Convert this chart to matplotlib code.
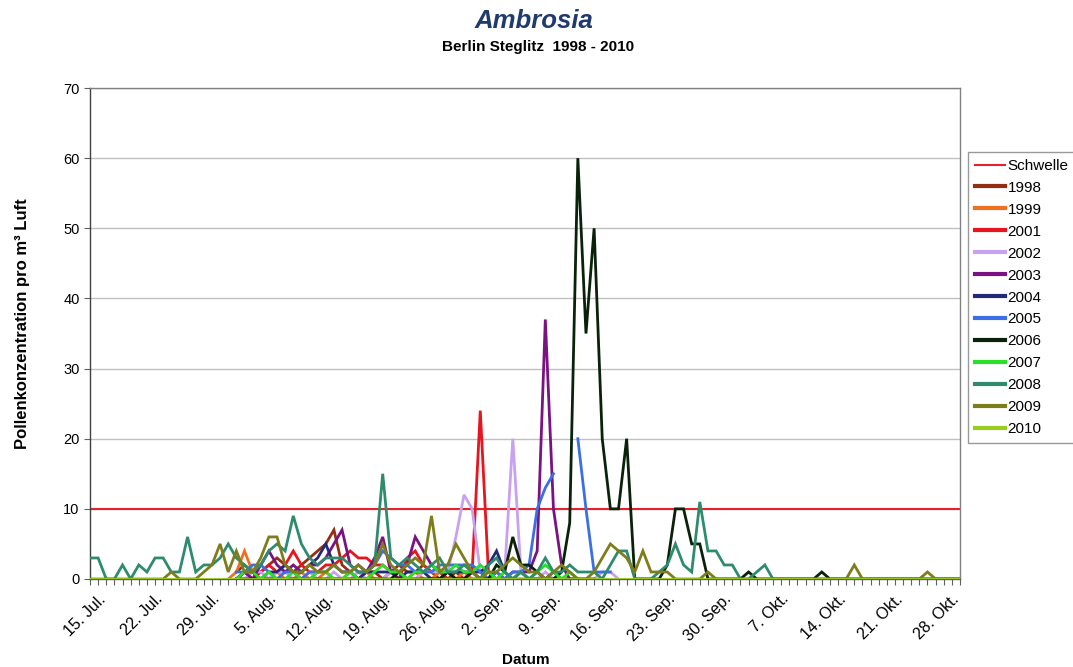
import numpy as np
import matplotlib
matplotlib.use("Agg")
import matplotlib.pyplot as plt
import matplotlib.transforms as mtrans
from matplotlib.ticker import MultipleLocator, FixedLocator

plt.rcParams['font.family'] = ['Liberation Sans', 'DejaVu Sans']

## data : daily pollen counts, day 0 = 15. Jul., day 107 = 30. Okt.
n_days = 108
tick_days = list(range(0, 106, 7))
tick_labels = ["15. Jul.", "22. Jul.", "29. Jul.", "5. Aug.", "12. Aug.", "19. Aug.",
               "26. Aug.", "2. Sep.", "9. Sep.", "16. Sep.", "23. Sep.", "30. Sep.",
               "7. Okt.", "14. Okt.", "21. Okt.", "28. Okt."]

schwelle = 10

# (first day, values)  - None = no measurement
y1998 = (18, [1, 2, 1, 1, 2, 3, 2, 1, 2, 3, 4, 5, 7, 2, 1, 0, 1, 1, 0, 1, 2, 1, 1, 2, 1, 0,
              0, 1, 0, 0, 0, 0, 0])
y1999 = (17, [0, 1, 4, 1, 0, 0, 1, 0, 0, 1, 0, 0, 1, 0, 0, 1, 2, 1, 0, 0, 1, 0, 0, 1, 0, 0,
              1, 0, 0, 1, 0, 0])
y2001 = (18, [0, 1, 0, 1, 2, 1, 2, 4, 2, 1, 1, 2, 2, 3, 4, 3, 3, 2, 2, 1, 0, 3, 4, 2, 1, 1,
              0, 0, 0, 1, 24, 1, 0, 0, 0, 0, 0, 0])
y2002 = (18, [0, 0, 1, 1, 0, 1, 1, 0, 0, 1, 0, 0, 1, 0, 0, 1, 0, 0, 0, 1, 1, 0, 0, 1, 1, 1,
              1, 6, 12, 10, 1, 0, 0, 1, 20, 1, 0, 0, 1, 0, 0, 0, 0, 0, 0, 1, 1, 0])
y2003 = (18, [0, 1, 0, 2, 4, 2, 1, 2, 1, 2, 2, 3, 5, 7, 2, 1, 1, 3, 6, 1, 1, 2, 6, 4, 2, 1,
              1, 0, 0, 1, 0, 0, 1, 0, 1, 1, 1, 4, 37, 10, 2, 0, 0, 0, 0])
y2004 = (18, [0, 1, 1, 0, 1, 1, 2, 1, 1, 2, 3, 5, 2, 1, 1, 0, 1, 1, 1, 1, 0, 1, 1, 1, 0, 0,
              1, 1, 1, 1, 1, 2, 4, 1, 0, 1, 0, 0, 0, 1, 0, 0, 0])
y2005 = (18, [1, 1, 2, 2, 1, 0, 1, 1, 0, 1, 1, 1, 2, 1, 1, 2, 1, 2, 4, 3, 2, 2, 1, 1, 1, 2,
              2, 2, 2, 2, 1, 0, 1, 0, 1, 1, 2, 10, 13, 15, None, None, 20, 10, 1, 1, 1])
y2006 = (18, [0, 0, 0, 0, 0, 0, 0, 0, 0, 0, 0, 0, 0, 0, 0, 0, 0, 0, 0, 0, 1, 0, 0, 0, 0, 0,
              1, 0, 0, 1, 0, 0, 2, 1, 6, 2, 2, 1, 0, 0, 1, 8, 60, 35, 50, 20, 10, 10, 20, 0,
              0, 0, 0, 2, 10, 10, 5, 5, 0, 0, 0, 0, 0, 1, 0, 0, 0, 0, 0, 0, 0, 0, 1, 0, 0, 0,
              0, 0, 0, 0, 0, 0, 0, 0, 0, 0, 0, 0, 0, 0])
y2007 = (18, [0, 1, 1, 0, 1, 0, 0, 1, 0, 0, 1, 1, 0, 0, 1, 0, 0, 1, 2, 1, 1, 0, 1, 1, 2, 1,
              1, 2, 1, 1, 2, 1, 0, 1, 0, 1, 0, 1, 2, 1, 0, 1, 0])
y2008 = (0, [3, 3, 0, 0, 2, 0, 2, 1, 3, 3, 1, 1, 6, 1, 2, 2, 3, 5, 3, 2,
             1, 2, 4, 5, 4, 9, 5, 3, 2, 3, 3, 3, 2, 1, 1, 2, 15, 3, 2, 3,
             2, 1, 2, 3, 1, 1, 2, 1, 0, 2, 3, 1, 0, 1, 0, 1, 3, 1, 1, 2,
             1, 1, 1, 0, 2, 4, 4, 0, 0, 0, 1, 2, 5, 2, 1, 11, 4, 4, 2, 2,
             0, 0, 1, 2, 0, 0, 0, 0, 0, 0, 0, 0, 0, 0, 0, 0, 0, 0, 0, 0,
             0, 0, 0, 0, 0, 0, 0, 0])
y2009 = (0, [0, 0, 0, 0, 0, 0, 0, 0, 0, 0, 1, 0, 0, 0, 1, 2, 5, 1, 4, 1,
             1, 3, 6, 6, 2, 1, 1, 2, 1, 1, 2, 1, 1, 2, 1, 2, 5, 2, 1, 2,
             3, 2, 9, 1, 2, 5, 3, 1, 0, 1, 1, 2, 3, 2, 1, 1, 0, 1, 2, 1,
             0, 0, 1, 3, 5, 4, 3, 1, 4, 1, 1, 1, 0, 0, 0, 0, 1, 0, 0, 0,
             0, 0, 0, 0, 0, 0, 0, 0, 0, 0, 0, 0, 0, 0, 2, 0, 0, 0, 0, 0,
             0, 0, 0, 1, 0, 0, 0, 0])
y2010 = (0, [0] * n_days)

years  = ["1998", "1999", "2001", "2002", "2003", "2004", "2005", "2006", "2007", "2008", "2009", "2010"]
series = [y1998, y1999, y2001, y2002, y2003, y2004, y2005, y2006, y2007, y2008, y2009, y2010]
colors = ["#962D10", "#F07020", "#E8141E", "#C8A2F0", "#7A1282", "#252878",
          "#3C6EE8", "#0A220A", "#28E028", "#2E8B6E", "#7D7D1A", "#9ACD20"]

## figure
fig = plt.figure(figsize=(10.73, 6.67), dpi=100)
ax = fig.add_axes([90/1073, 1 - 579/667, 870/1073, 491/667])

ax.plot([0, n_days - 1], [schwelle, schwelle], color="#E8202A", lw=1.5, label="Schwelle", zorder=2)

for name, (start, vals), c in zip(years, series, colors):
    y = np.array([np.nan if v is None else v for v in vals], dtype=float)
    x = np.arange(start, start + len(y))
    ax.plot(x, y, color=c, lw=2.0, label=name, zorder=3, solid_joinstyle="miter")

ax.set_xlim(0, n_days - 1)
ax.set_ylim(0, 70)
ax.yaxis.set_major_locator(MultipleLocator(10))
ax.grid(axis="y", color="#C0C0C0", lw=1.0, zorder=0)
ax.set_axisbelow(True)

ax.xaxis.set_major_locator(FixedLocator(tick_days))
ax.xaxis.set_minor_locator(MultipleLocator(1))
ax.set_xticklabels(tick_labels, rotation=45, ha="right", rotation_mode="anchor", fontsize=11.5)
ax.tick_params(axis="x", which="both", direction="out", length=4, width=0.8, color="#606060", pad=5)
ax.tick_params(axis="y", which="major", direction="out", length=4, width=0.8, color="#606060", labelsize=10.5)
shift = mtrans.ScaledTranslation(8/100, 0, fig.dpi_scale_trans)
for lab in ax.get_xticklabels():
    lab.set_transform(lab.get_transform() + shift)

for s in ax.spines.values():
    s.set_color("#808080")
    s.set_linewidth(1.0)
ax.spines["left"].set_color("#404040")
ax.spines["bottom"].set_color("#606060")

ax.set_ylabel("Pollenkonzentration pro m³ Luft", fontsize=12, fontweight="bold", va="center")
ax.yaxis.set_label_coords(-0.078, 0.52)
ax.set_xlabel("Datum", fontsize=11, fontweight="bold", va="center")
ax.xaxis.set_label_coords(0.501, -0.165)

fig.text(534/1073, 1 - 21/667, "Ambrosia", ha="center", va="center", fontsize=18.5,
         fontweight="bold", fontstyle="italic", color="#1F3A6E")
fig.text(538/1073, 1 - 47/667, "Berlin Steglitz  1998 - 2010", ha="center", va="center",
         fontsize=11, fontweight="bold")

leg = fig.legend(loc="upper left", bbox_to_anchor=(968/1073, 1 - 152/667), fontsize=11,
                 frameon=True, fancybox=False, edgecolor="#808080", handlelength=2.0,
                 handletextpad=0.15, labelspacing=0.52, borderpad=0.45, borderaxespad=0)
leg.get_frame().set_linewidth(1.0)
for h in leg.get_lines()[1:]:
    h.set_linewidth(3.0)

fig.savefig("out.png", dpi=100)
